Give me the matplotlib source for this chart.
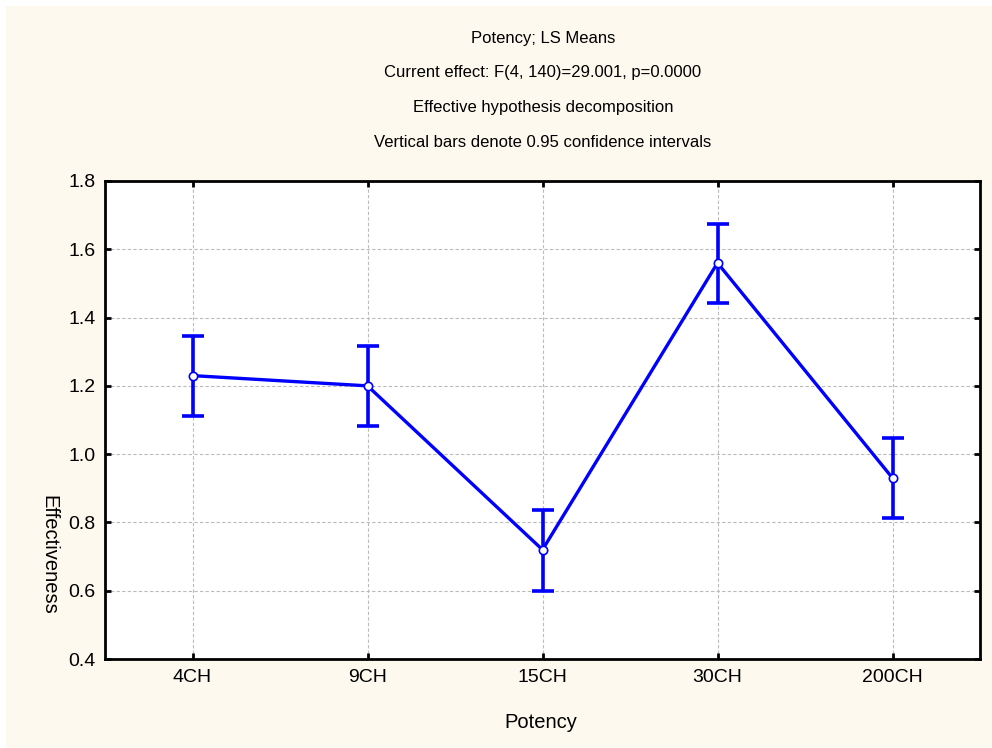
import matplotlib.pyplot as plt
from matplotlib.patches import Rectangle

potency = ['4CH', '9CH', '15CH', '30CH', '200CH']
ls_means = [1.23, 1.20, 0.72, 1.56, 0.93]
ci_lower = [1.113, 1.083, 0.598, 1.442, 0.812]
ci_upper = [1.347, 1.317, 0.835, 1.675, 1.046]

title_lines = [
    'Potency; LS Means',
    'Current effect: F(4, 140)=29.001, p=0.0000',
    'Effective hypothesis decomposition',
    'Vertical bars denote 0.95 confidence intervals',
]

plt.rcParams['font.family'] = ['Liberation Sans', 'DejaVu Sans']

fig = plt.figure(figsize=(9.92, 7.48), dpi=100, facecolor='white')
# cream panel behind everything, with a thin white margin
fig.patches.append(Rectangle((6 / 992, 0), 1 - 6 / 992, 1 - 6 / 748,
                             transform=fig.transFigure, facecolor='#fdf9ee',
                             edgecolor='none', zorder=-10))

ax = fig.add_axes([105 / 992, 1 - 659 / 748, 875 / 992, 478 / 748])
ax.set_facecolor('white')

x = list(range(len(potency)))
err_lo = [m - l for m, l in zip(ls_means, ci_lower)]
err_hi = [u - m for m, u in zip(ls_means, ci_upper)]

ax.errorbar(x, ls_means, yerr=[err_lo, err_hi], fmt='none', ecolor='#0000ff',
            elinewidth=2.6, capsize=8, capthick=2.6, zorder=3)
ax.plot(x, ls_means, color='#0000ff', linewidth=2.4, marker='o', markersize=6,
        markerfacecolor='white', markeredgecolor='#0000ff', markeredgewidth=1.2,
        zorder=4)

ax.set_xlim(-0.5, 4.5)
ax.set_ylim(0.4, 1.8)
ax.set_xticks(x)
ax.set_xticklabels(potency)
ax.set_yticks([0.4, 0.6, 0.8, 1.0, 1.2, 1.4, 1.6, 1.8])
ax.set_yticklabels(['0.4', '0.6', '0.8', '1.0', '1.2', '1.4', '1.6', '1.8'])
ax.tick_params(direction='in', length=4, width=2, labelsize=14, pad=7,
               top=True, right=True, colors='black')
ax.grid(True, color='#bbbbbb', linestyle=(0, (3, 2)), linewidth=0.8)
for s in ax.spines.values():
    s.set_linewidth(2)
    s.set_color('black')

for i, line in enumerate(title_lines):
    fig.text(543 / 992, 1 - (38 + 34.7 * i) / 748, line, ha='center',
             va='center', fontsize=12)

fig.text(541 / 992, 1 - 722 / 748, 'Potency', ha='center', va='center',
         fontsize=14.5)
fig.text(49 / 992, 1 - 555 / 748, 'Effectiveness', ha='center', va='center',
         rotation=270, fontsize=14.5)

fig.savefig('out.png', dpi=100, facecolor=fig.get_facecolor())
